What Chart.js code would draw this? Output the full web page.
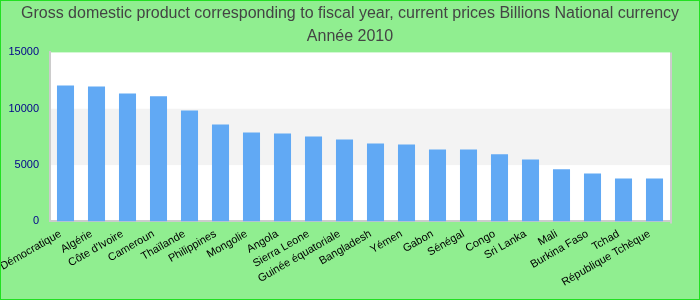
<!DOCTYPE html>
<html>
<head>
<meta charset="utf-8">
<script src="https://cdn.jsdelivr.net/npm/chart.js@4"></script>
<style>
  html, body { margin: 0; padding: 0; background: #90ee90; }
  #wrap { width: 700px; height: 300px; box-sizing: border-box; border: 1px solid #22e022; background: #90ee90; position: relative; }
  canvas { display: block; }
</style>
</head>
<body>
<div id="wrap"><canvas id="c"></canvas></div>
<script>
const titleLines = ["Gross domestic product corresponding to fiscal year, current prices Billions National currency", "Année 2010"];
const categories = ["Démocratique", "Algérie", "Côte d'Ivoire", "Cameroun", "Thaïlande", "Philippines", "Mongolie", "Angola", "Sierra Leone", "Guinée équatoriale", "Bangladesh", "Yémen", "Gabon", "Sénégal", "Congo", "Sri Lanka", "Mali", "Burkina Faso", "Tchad", "République Tchèque"];
const gdpValues = [12070, 11980, 11360, 11100, 9850, 8610, 7900, 7810, 7540, 7280, 6920, 6830, 6390, 6390, 5950, 5500, 4620, 4260, 3820, 3820];
const yTicks = [0, 5000, 10000, 15000];

const bandsPlugin = {
  id: 'bands',
  beforeDraw(chart) {
    const { ctx, chartArea: a, scales: { y } } = chart;
    ctx.save();
    ctx.fillStyle = '#ffffff';
    ctx.fillRect(a.left, a.top, a.right - a.left, a.bottom - a.top);
    for (let i = 0; i < yTicks.length - 1; i++) {
      if (i % 2 === 1) {
        const t = y.getPixelForValue(yTicks[i + 1]);
        const b = y.getPixelForValue(yTicks[i]);
        ctx.fillStyle = '#f3f3f3';
        ctx.fillRect(a.left, t, a.right - a.left, b - t);
      }
    }
    ctx.restore();
  },
  afterDraw(chart) {
    const { ctx, chartArea: a } = chart;
    ctx.save();
    ctx.strokeStyle = '#cccccc';
    ctx.lineWidth = 2;
    ctx.beginPath();
    ctx.moveTo(a.right + 1, a.top);
    ctx.lineTo(a.right + 1, a.bottom + 2);
    ctx.stroke();
    ctx.restore();
  }
};

new Chart(document.getElementById('c'), {
  type: 'bar',
  data: {
    labels: categories,
    datasets: [{
      data: gdpValues,
      backgroundColor: '#61a9f4',
      categoryPercentage: 1,
      barPercentage: 0.55
    }]
  },
  plugins: [bandsPlugin],
  options: {
    responsive: true,
    maintainAspectRatio: false,
    animation: false,
    layout: { padding: { left: 0, right: 0, top: 0, bottom: 4 } },
    plugins: {
      legend: { display: false },
      tooltip: { enabled: false },
      title: {
        display: true,
        text: titleLines,
        color: '#444444',
        font: { family: 'Liberation Sans, Arial, sans-serif', size: 16, weight: 'normal', lineHeight: 1.45 },
        padding: { top: 1, bottom: 4 }
      }
    },
    scales: {
      x: {
        grid: { display: false, drawTicks: false },
        border: { display: true, color: '#cccccc', width: 2 },
        ticks: {
          color: '#000000',
          font: { family: 'Liberation Sans, Arial, sans-serif', size: 11 },
          maxRotation: 30,
          minRotation: 30,
          autoSkip: false,
          padding: 6,
          labelOffset: -5
        },
        afterFit(scale) { scale.paddingLeft = 0; scale.paddingRight = 29; }
      },
      y: {
        min: 0,
        max: 15000,
        afterBuildTicks(scale) { scale.ticks = yTicks.map(v => ({ value: v })); },
        afterFit(scale) { scale.width = 49; },
        grid: { display: false, drawTicks: false },
        border: { display: true, color: '#cccccc', width: 2 },
        ticks: {
          color: '#00008b',
          font: { family: 'Liberation Sans, Arial, sans-serif', size: 11 },
          padding: 11,
          callback: (v) => String(v)
        }
      }
    }
  }
});
</script>
</body>
</html>
